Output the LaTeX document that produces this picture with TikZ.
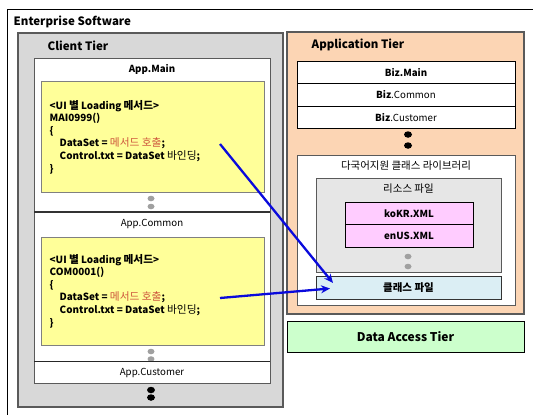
\documentclass[tikz,border=0pt]{standalone}
\usepackage{fontspec}
\setmainfont{Noto Sans CJK KR}
\newfontfamily\hangul{Noto Sans CJK KR}[Scale=1.08]
\usetikzlibrary{arrows.meta,shapes.geometric}

\definecolor{tiergray}{RGB}{216,216,216}
\definecolor{framegray}{RGB}{90,90,90}
\definecolor{codeyellow}{RGB}{255,255,153}
\definecolor{peach}{RGB}{252,213,180}
\definecolor{resgray}{RGB}{230,230,230}
\definecolor{xmlpink}{RGB}{255,204,255}
\definecolor{clsblue}{RGB}{219,238,244}
\definecolor{dagreen}{RGB}{204,255,204}
\definecolor{callred}{RGB}{205,85,60}
\definecolor{dotgray}{RGB}{160,160,160}
\definecolor{arrowblue}{RGB}{10,10,220}

\tikzset{
  box/.style={draw, line width=0.8pt, inner sep=0pt, outer sep=0pt},
  tierbox/.style={box, draw=framegray, line width=1.2pt},
  codebox/.style={box, draw=gray, fill=codeyellow, line width=0.8pt},
  codetext/.style={align=left, inner sep=0pt, anchor=west,
    font=\fontsize{9.9}{12.6}\selectfont\bfseries},
  label/.style={inner sep=0pt, font=\fontsize{9.7}{11}\selectfont},
  boldlabel/.style={label, font=\fontsize{9.7}{11}\selectfont\bfseries},
  tiertitle/.style={inner sep=0pt, anchor=west, font=\fontsize{11.5}{13}\selectfont\bfseries},
  graydot/.style={ellipse, fill=dotgray, minimum width=7pt, minimum height=5.5pt, inner sep=0pt},
  blackdot/.style={ellipse, fill=black, minimum width=8pt, minimum height=6.5pt, inner sep=0pt},
  link/.style={draw=arrowblue, line width=2.3pt, -{Stealth[length=9pt,width=8pt]}},
}

\newcommand{\call}[1]{{\hangul\color{callred}\mdseries #1}}
\newcommand{\kw}[1]{{\hangul\mdseries #1}}
\newcommand{\kb}[1]{{\hangul #1}}

\begin{document}
\begin{tikzpicture}[x=1pt,y=-1pt]
\useasboundingbox (0,0) rectangle (533,415);
\fill[white] (0,0) rectangle (533,415);
\begin{scope}
\clip (0,0) rectangle (533,415);
% enterprise frame, running off the page on the right and bottom
\draw[line width=1pt] (7,430) -- (7,9) -- (545,9);
\end{scope}
\node[tiertitle] (ent) at (13.5,21.5) {Enterprise Software};

% ---------------- client tier ----------------
\node[tierbox, fill=tiergray, minimum width=265pt, minimum height=374pt] (client) at (150.5,220) {};
\node[tiertitle] (clientT) at (47.5,45.5) {Client Tier};
\node[box, draw=framegray, fill=white, minimum width=236pt, minimum height=325pt] (apps) at (152,220.5) {};

\node[boldlabel] (appmain) at (152,69.5) {App.Main};
\node[codebox, minimum width=223pt, minimum height=111pt] (code1) at (152.5,136.5) {};
\node[codetext] (code1t) at (49.5,137) {%
<UI \kb{별} Loading \kb{메서드}>\\
MAI0999()\\
\{\\
\hspace*{10pt}DataSet = \call{메서드 호출};\\
\hspace*{10pt}Control.txt = DataSet \kw{바인딩};\\
\}};
\node[graydot] (d1) at (151,198.5) {};
\node[graydot] (d2) at (151,206.5) {};
\draw[line width=1.4pt, draw=black!80] (apps.west |- 0,212) coordinate (s1) -- (apps.east |- 0,212) coordinate (s1e);
\node[label] (appcommon) at (152,223.5) {App.Common};

\node[codebox, minimum width=223pt, minimum height=108pt] (code2) at (152.5,291) {};
\node[codetext] (code2t) at (49.5,291) {%
<UI \kb{별} Loading \kb{메서드}>\\
COM0001()\\
\{\\
\hspace*{10pt}DataSet = \call{메서드 호출};\\
\hspace*{10pt}Control.txt = DataSet \kw{바인딩};\\
\}};
\node[graydot] (d3) at (151,351.5) {};
\node[graydot] (d4) at (151,359) {};
\draw[line width=1.1pt, draw=black!85] (apps.west |- 0,361.5) coordinate (s2) -- (apps.east |- 0,361.5) coordinate (s2e);
\node[label] (appcust) at (152,373) {App.Customer};
\node[blackdot] (d5) at (151,390) {};
\node[blackdot] (d6) at (151,397.5) {};

% ---------------- application tier ----------------
\node[tierbox, fill=peach, minimum width=237pt, minimum height=282pt] (apptier) at (405.5,173) {};
\node[tiertitle] (appT) at (311.5,44.5) {Application Tier};
\node[box, fill=white, minimum width=218pt, minimum height=22.5pt] (bizmain) at (406,72.25) {};
\node[boldlabel] at (bizmain) {Biz.Main};
\node[box, fill=white, minimum width=218pt, minimum height=22.5pt] (bizcommon) at (406,94.75) {};
\node[label] at (bizcommon) {\textbf{Biz}.Common};
\node[box, fill=white, minimum width=218pt, minimum height=22.5pt] (bizcust) at (406,117.25) {};
\node[label] at (bizcust) {\textbf{Biz}.Customer};
\node[blackdot] (d7) at (408,134.5) {};
\node[blackdot] (d8) at (408,145.5) {};

\node[box, draw=framegray, fill=white, minimum width=218pt, minimum height=150pt] (lib) at (406,230) {};
\node[label] (libT) at (406,166) {\hangul 다국어지원 클래스 라이브러리};
\node[box, draw=framegray, fill=resgray, minimum width=185pt, minimum height=94pt] (res) at (408.5,225) {};
\node[label] (resT) at (408.5,188.5) {\hangul 리소스 파일};
\node[box, fill=xmlpink, minimum width=128pt, minimum height=22.5pt] (kokr) at (409,213.25) {};
\node[boldlabel] at (kokr) {koKR.XML};
\node[box, fill=xmlpink, minimum width=128pt, minimum height=22.5pt] (enus) at (409,235.75) {};
\node[boldlabel] at (enus) {enUS.XML};
\node[graydot] (d9) at (408,256.5) {};
\node[graydot] (d10) at (408,266.5) {};
\node[box, draw=black!80, fill=clsblue, minimum width=185pt, minimum height=23pt] (cls) at (408.5,287.5) {};
\node[boldlabel] at (cls) {\hangul 클래스 파일};

% ---------------- data access tier ----------------
\node[box, fill=dagreen, minimum width=237pt, minimum height=31pt] (data) at (405.5,336.5) {};
\node[inner sep=0pt, font=\fontsize{12}{13}\selectfont\bfseries] at (data) {Data Access Tier};

% ---------------- calls into the class file ----------------
\coordinate (c1) at (220,144);
\coordinate (c2) at (220,298);
\coordinate (t1) at (333,283);
\coordinate (t2) at (330,288.5);
\draw[link] (c1) -- (t1);
\draw[link] (c2) -- (t2);
\end{tikzpicture}
\end{document}
